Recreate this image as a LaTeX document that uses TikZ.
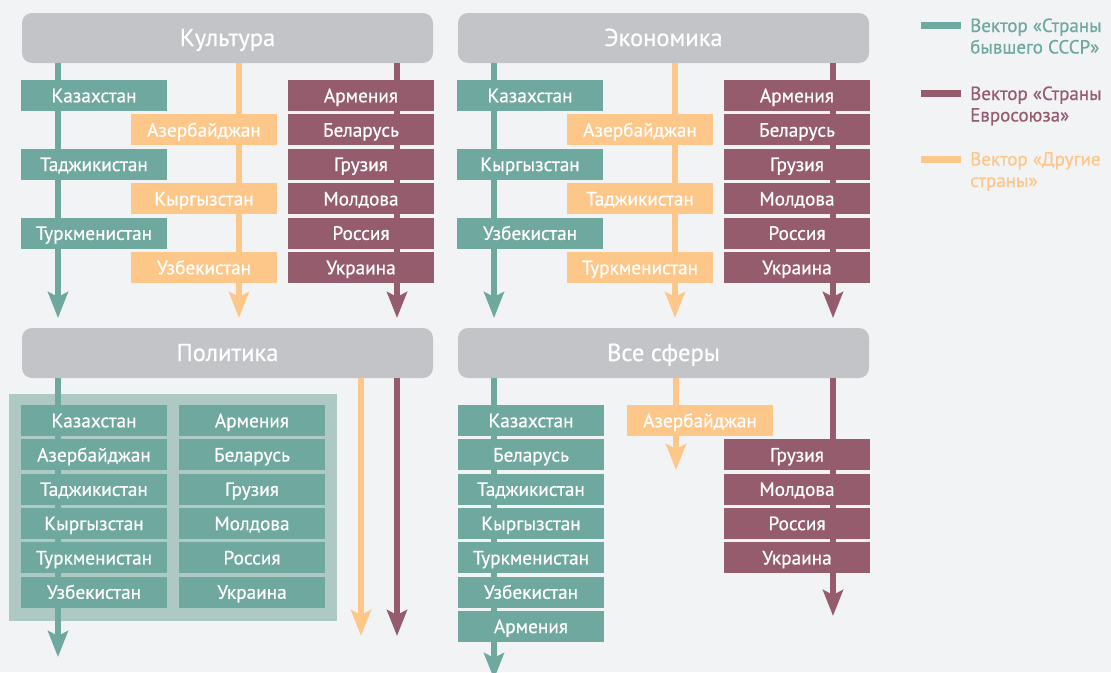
\documentclass[tikz,border=0pt]{standalone}
\usepackage{fontspec}
\setmainfont{PT Sans}
\newfontfamily\dinfont{PT Sans}[FakeBold=0.6]
\usetikzlibrary{arrows.meta,positioning}

\definecolor{sssr}{HTML}{6EA89E}
\definecolor{evro}{HTML}{955C6D}
\definecolor{drug}{HTML}{FEC78A}
\definecolor{shapka}{HTML}{C3C4C7}
\definecolor{fon}{HTML}{F2F3F5}
\definecolor{panel}{HTML}{AEC9C3}

\tikzset{
  header/.style={fill=shapka, rounded corners=10pt, inner sep=0pt,
    minimum width=411pt, minimum height=50pt, text=white,
    text height=16pt, text depth=0pt,
    font=\dinfont\fontsize{24.5}{28}\selectfont},
  country/.style={minimum width=146pt, minimum height=31pt, inner sep=0pt,
    text=white, text height=13.5pt, text depth=0pt,
    font=\dinfont\fontsize{19.3}{22}\selectfont},
  sssrbox/.style={country, fill=sssr},
  evrobox/.style={country, fill=evro},
  drugbox/.style={country, fill=drug},
  vec/.style={line width=6pt, -{Stealth[length=26pt,width=20pt,inset=5pt]}},
  legtext/.style={anchor=base west, inner sep=0pt, align=left,
    font=\dinfont\fontsize{19}{21.5}\selectfont}
}

\begin{document}
\begin{tikzpicture}[x=1pt,y=-1pt]

\clip (0,0) rectangle (1111,672);
\fill[fon] (0,0) rectangle (1111,672);

%--------------------
% Культура
%--------------------
\begin{scope}
  \node[header] (kult) at (227.5,38) {Культура};

  % векторы
  \coordinate (kultA) at (58,318);
  \coordinate (kultB) at (239,318);
  \coordinate (kultC) at (397,318);
  \draw[vec,sssr] (kult.south -| kultA) -- (kultA);
  \draw[vec,drug] (kult.south -| kultB) -- (kultB);
  \draw[vec,evro] (kult.south -| kultC) -- (kultC);

  % страны
  \node[sssrbox] (kultKaz) at (94,95.5)  {Казахстан};
  \node[sssrbox] (kultTad) at (94,164.3) {Таджикистан};
  \node[sssrbox] (kultTur) at (94,233.1) {Туркменистан};

  \node[drugbox] (kultAze) at (204,129.9) {Азербайджан};
  \node[drugbox] (kultKyr) at (204,198.7) {Кыргызстан};
  \node[drugbox] (kultUzb) at (204,267.5) {Узбекистан};

  \node[evrobox] (kultArm) at (361,95.5)  {Армения};
  \node[evrobox] (kultBel) at (361,129.9) {Беларусь};
  \node[evrobox] (kultGru) at (361,164.3) {Грузия};
  \node[evrobox] (kultMol) at (361,198.7) {Молдова};
  \node[evrobox] (kultRos) at (361,233.1) {Россия};
  \node[evrobox] (kultUkr) at (361,267.5) {Украина};
\end{scope}

%--------------------
% Экономика
%--------------------
\begin{scope}[xshift=436pt]
  \node[header] (ekon) at (227.5,38) {Экономика};

  % векторы
  \coordinate (ekonA) at (58,318);
  \coordinate (ekonB) at (239,318);
  \coordinate (ekonC) at (397,318);
  \draw[vec,sssr] (ekon.south -| ekonA) -- (ekonA);
  \draw[vec,drug] (ekon.south -| ekonB) -- (ekonB);
  \draw[vec,evro] (ekon.south -| ekonC) -- (ekonC);

  % страны
  \node[sssrbox] (ekonKaz) at (94,95.5)  {Казахстан};
  \node[sssrbox] (ekonKyr) at (94,164.3) {Кыргызстан};
  \node[sssrbox] (ekonUzb) at (94,233.1) {Узбекистан};

  \node[drugbox] (ekonAze) at (204,129.9) {Азербайджан};
  \node[drugbox] (ekonTad) at (204,198.7) {Таджикистан};
  \node[drugbox] (ekonTur) at (204,267.5) {Туркменистан};

  \node[evrobox] (ekonArm) at (361,95.5)  {Армения};
  \node[evrobox] (ekonBel) at (361,129.9) {Беларусь};
  \node[evrobox] (ekonGru) at (361,164.3) {Грузия};
  \node[evrobox] (ekonMol) at (361,198.7) {Молдова};
  \node[evrobox] (ekonRos) at (361,233.1) {Россия};
  \node[evrobox] (ekonUkr) at (361,267.5) {Украина};
\end{scope}

%--------------------
% Политика
%--------------------
\begin{scope}
  \fill[panel] (9,394) rectangle (337,621);
  \node[header] (polit) at (227.5,353) {Политика};

  % векторы
  \coordinate (politA) at (58,657);
  \coordinate (politB) at (361,636);
  \coordinate (politC) at (397,636);
  \draw[vec,sssr] (polit.south -| politA) -- (politA);
  \draw[vec,drug] (polit.south -| politB) -- (politB);
  \draw[vec,evro] (polit.south -| politC) -- (politC);

  % страны
  \node[sssrbox] (politKaz) at (94,420.5) {Казахстан};
  \node[sssrbox] (politAze) at (94,454.8) {Азербайджан};
  \node[sssrbox] (politTad) at (94,489.1) {Таджикистан};
  \node[sssrbox] (politKyr) at (94,523.4) {Кыргызстан};
  \node[sssrbox] (politTur) at (94,557.7) {Туркменистан};
  \node[sssrbox] (politUzb) at (94,592.0) {Узбекистан};

  \node[sssrbox] (politArm) at (252,420.5) {Армения};
  \node[sssrbox] (politBel) at (252,454.8) {Беларусь};
  \node[sssrbox] (politGru) at (252,489.1) {Грузия};
  \node[sssrbox] (politMol) at (252,523.4) {Молдова};
  \node[sssrbox] (politRos) at (252,557.7) {Россия};
  \node[sssrbox] (politUkr) at (252,592.0) {Украина};
\end{scope}

%--------------------
% Все сферы
%--------------------
\begin{scope}
  \node[header] (vse) at (663.5,353) {Все сферы};

  % векторы
  \coordinate (vseA) at (494,679);
  \coordinate (vseB) at (676,470);
  \coordinate (vseC) at (833,616);
  \draw[vec,sssr] (vse.south -| vseA) -- (vseA);
  \draw[vec,drug] (vse.south -| vseB) -- (vseB);
  \draw[vec,evro] (vse.south -| vseC) -- (vseC);

  % страны
  \node[sssrbox] (vseKaz) at (531,420.5) {Казахстан};
  \node[sssrbox] (vseBel) at (531,454.8) {Беларусь};
  \node[sssrbox] (vseTad) at (531,489.1) {Таджикистан};
  \node[sssrbox] (vseKyr) at (531,523.4) {Кыргызстан};
  \node[sssrbox] (vseTur) at (531,557.7) {Туркменистан};
  \node[sssrbox] (vseUzb) at (531,592.0) {Узбекистан};
  \node[sssrbox] (vseArm) at (531,626.3) {Армения};

  \node[drugbox] (vseAze) at (700,420.5) {Азербайджан};

  \node[evrobox] (vseGru) at (797,454.8) {Грузия};
  \node[evrobox] (vseMol) at (797,489.1) {Молдова};
  \node[evrobox] (vseRos) at (797,523.4) {Россия};
  \node[evrobox] (vseUkr) at (797,557.7) {Украина};
\end{scope}

%--------------------
% Легенда
%--------------------
\fill[sssr] (921,21.5) rectangle (961,28.5);
\node[legtext,text=sssr] (legSssr) at (970,53.5)
  {Вектор «Страны\\бывшего СССР»};

\fill[evro] (921,89.5) rectangle (961,96.5);
\node[legtext,text=evro] (legEvro) at (970,121.5)
  {Вектор «Страны\\Евросоюза»};

\fill[drug] (921,155.5) rectangle (961,162.5);
\node[legtext,text=drug] (legDrug) at (970,187)
  {Вектор «Другие\\страны»};

\end{tikzpicture}
\end{document}
